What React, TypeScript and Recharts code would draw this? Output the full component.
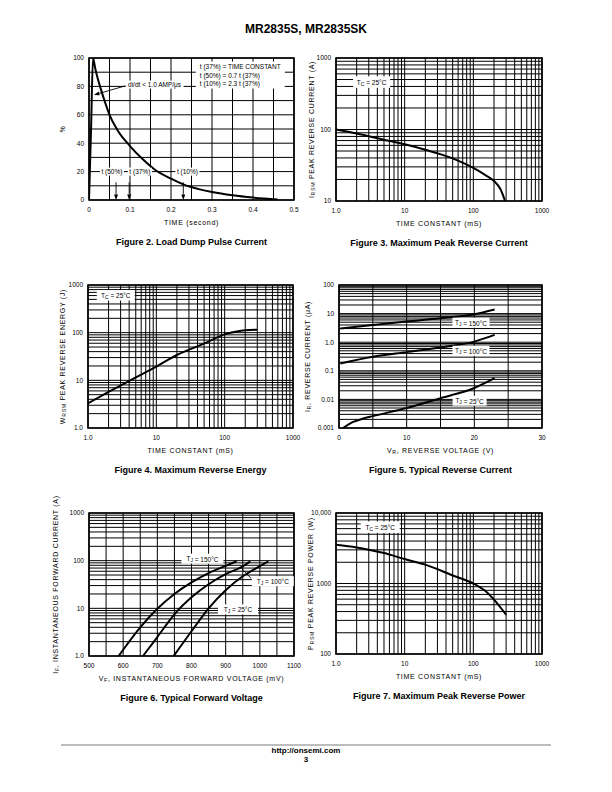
import React from 'react';
import { LineChart, Line, XAxis, YAxis, ReferenceLine, ReferenceArea, ReferenceDot } from 'recharts';

const FONT = '"Liberation Sans", Arial, Helvetica, sans-serif';
const INK = '#000';

// Figure 2 - load dump pulse current
const pulseTime = [0, 0.005, 0.0098, 0.015, 0.02, 0.03, 0.04, 0.05, 0.07, 0.1, 0.13, 0.16, 0.2, 0.23, 0.27, 0.3, 0.35, 0.4, 0.46];
const pulsePercent = [0, 50, 100, 93, 87, 77, 68, 60, 49, 38, 29, 21.5, 15, 11, 7.5, 5.6, 3.3, 1.7, 0.4];
const pulseXTicks = [0, 0.1, 0.2, 0.3, 0.4, 0.5];
const pulseYTicks = [0, 20, 40, 60, 80, 100];
const pulseNotes = ['t (37%) = TIME CONSTANT', 't (50%) = 0.7 t (37%)', 't (10%) = 2.3 t (37%)'];
const pulseMarkTimes = [0.066, 0.098, 0.23];
const pulseMarkLabels = ['t (50%)', 't (37%)', 't (10%)'];
const pulseMarkLabelX = [0.056, 0.124, 0.24];

// Figure 3 - max peak reverse current
const ircTime = [1, 2, 5, 10, 20, 50, 100, 150, 200, 250, 290];
const ircAmps = [100, 88, 72, 62, 52, 39.5, 29, 23, 19, 14.5, 10];

// Figure 4 - max reverse energy
const wrsmTime = [1, 2, 5, 10, 20, 50, 100, 150, 200, 300];
const wrsmJoules = [3.3, 5.7, 11.5, 19.5, 34, 59, 92, 106, 112, 115];

// Figure 5 - typical reverse current
const vr150 = [0.2, 5, 10, 15, 20, 23];
const ir150 = [3.0, 4.0, 5.3, 6.9, 9.5, 14];
const vr100 = [0.2, 5, 10, 15, 20, 23];
const ir100 = [0.18, 0.31, 0.45, 0.65, 1.05, 1.8];
const vr25 = [0.6, 2, 3.5, 5, 10, 15, 20, 23];
const ir25 = [0.001, 0.0016, 0.0021, 0.0026, 0.005, 0.011, 0.025, 0.055];

// Figure 6 - typical forward voltage
const vf150 = [587, 600, 650, 700, 750, 800, 850, 900, 932];
const if150 = [1, 1.35, 4, 9.8, 20, 35, 55, 78, 97];
const vf100 = [658, 700, 750, 800, 850, 900, 950, 972];
const if100 = [1, 2.5, 7.5, 17, 32, 52, 76, 97];
const vf25 = [748, 800, 850, 900, 950, 1000, 1025];
const if25 = [1, 3.3, 10, 24, 47, 77, 97];

// Figure 7 - max peak reverse power
const prsmTime = [1, 2, 3, 5, 10, 20, 50, 100, 150, 200, 300];
const prsmWatts = [3550, 3250, 3020, 2700, 2220, 1850, 1300, 1000, 780, 590, 360];

const decadeTicks = [1, 10, 100, 1000];
const reverseTicks = [0.001, 0.01, 0.1, 1, 10, 100];
const powerTicks = [100, 1000, 10000];
const voltTicks = [0, 10, 20, 30];
const fwdTicks = [500, 600, 700, 800, 900, 1000, 1100];

const toPoints = (xs: number[], ys: number[]) => xs.map((x, i) => ({ x, y: ys[i] }));

function logGrid(lo: number, hi: number) {
  const out: number[] = [];
  const e0 = Math.round(Math.log10(lo));
  const e1 = Math.round(Math.log10(hi));
  for (let e = e0; e < e1; e++) {
    for (let m = 1; m < 10; m++) out.push(Number((m * Math.pow(10, e)).toPrecision(3)));
  }
  out.push(hi);
  return out;
}

function linGrid(lo: number, hi: number, step: number) {
  const out: number[] = [];
  const n = Math.round((hi - lo) / step);
  for (let i = 0; i <= n; i++) out.push(Number((lo + i * step).toFixed(4)));
  return out;
}

const logFmt = (v: number) => {
  if (v === 1) return '1.0';
  if (v >= 10000) return v.toLocaleString('en-US');
  return String(v);
};

type Title = { main: string; sub?: string; rest?: string };

function TitleText({ t }: { t: Title }) {
  return (
    <>
      {t.main}
      {t.sub ? (
        <tspan dy={1.8} fontSize={5.2}>
          {t.sub}
        </tspan>
      ) : null}
      <tspan dy={t.sub ? -1.8 : 0}>{t.rest ?? ''}</tspan>
    </>
  );
}

function Tj({ sub, rest }: { sub: string; rest: string }) {
  return (
    <>
      T
      <tspan dy={1.5} fontSize={5}>
        {sub}
      </tspan>
      <tspan dy={-1.5}>{rest}</tspan>
    </>
  );
}

// white knock-out box with centred text, drawn at a data point
function tag(content: React.ReactNode, w: number, h = 10) {
  return (p: any) => (
    <g>
      <rect x={p.cx - w / 2} y={p.cy - h / 2} width={w} height={h} fill="#fff" stroke="none" />
      <text
        x={p.cx}
        y={p.cy}
        textAnchor="middle"
        dominantBaseline="central"
        fontSize={6.5}
        fontFamily={FONT}
        fill={INK}
        stroke="none"
      >
        {content}
      </text>
    </g>
  );
}

function arrowShape(p: any) {
  const { x1, y1, x2, y2 } = p;
  if ([x1, y1, x2, y2].some((v) => typeof v !== 'number' || Number.isNaN(v))) return <g />;
  const ang = Math.atan2(y2 - y1, x2 - x1);
  const len = 5.5;
  const half = 2;
  const bx = x2 - len * Math.cos(ang);
  const by = y2 - len * Math.sin(ang);
  const nx = -Math.sin(ang) * half;
  const ny = Math.cos(ang) * half;
  return (
    <g>
      <line x1={x1} y1={y1} x2={bx} y2={by} stroke={INK} strokeWidth={0.9} />
      <polygon points={`${x2},${y2} ${bx + nx},${by + ny} ${bx - nx},${by - ny}`} fill={INK} stroke="none" />
    </g>
  );
}

const PAD_L = 70;
const PAD_T = 30;
const PAD_R = 20;
const PAD_B = 50;
const Y_AXIS_W = 40;
const X_AXIS_H = 20;

type FrameProps = {
  plot: { x: number; y: number; w: number; h: number };
  xDomain: [number, number];
  yDomain: [number, number];
  xLog?: boolean;
  yLog?: boolean;
  xTicks: number[];
  yTicks: number[];
  xFmt?: (v: number) => string;
  yFmt?: (v: number) => string;
  xGrid: number[];
  yGrid: number[];
  xTitle: Title;
  yTitle: Title;
  yTitleGap: number;
  caption: string;
  children?: React.ReactNode;
};

function Frame({
  plot,
  xDomain,
  yDomain,
  xLog,
  yLog,
  xTicks,
  yTicks,
  xFmt,
  yFmt,
  xGrid,
  yGrid,
  xTitle,
  yTitle,
  yTitleGap,
  caption,
  children,
}: FrameProps) {
  const W = plot.w + PAD_L + PAD_R;
  const H = plot.h + PAD_T + PAD_B;
  const tick = { fontSize: 6.5, fill: INK, fontFamily: FONT };
  const cx = PAD_L + plot.w / 2;
  const cy = PAD_T + plot.h / 2;
  const yx = PAD_L - yTitleGap;

  return (
    <div style={{ position: 'absolute', left: plot.x - PAD_L, top: plot.y - PAD_T, width: W, height: H }}>
      <LineChart
        width={W}
        height={H}
        margin={{ top: PAD_T, right: PAD_R, bottom: PAD_B - X_AXIS_H, left: PAD_L - Y_AXIS_W }}
      >
        <XAxis
          type="number"
          dataKey="x"
          scale={xLog ? 'log' : 'linear'}
          domain={xDomain}
          allowDataOverflow
          ticks={xTicks}
          tickFormatter={xFmt}
          interval={0}
          axisLine={false}
          tickLine={false}
          tickSize={0}
          tickMargin={7}
          height={X_AXIS_H}
          tick={tick}
        />
        <YAxis
          type="number"
          dataKey="y"
          scale={yLog ? 'log' : 'linear'}
          domain={yDomain}
          allowDataOverflow
          ticks={yTicks}
          tickFormatter={yFmt}
          interval={0}
          axisLine={false}
          tickLine={false}
          tickSize={0}
          tickMargin={5}
          width={Y_AXIS_W}
          tick={tick}
        />
        {yGrid.map((v) => (
          <ReferenceLine key={`h${v}`} y={v} stroke={INK} strokeWidth={1} />
        ))}
        {xGrid.map((v) => (
          <ReferenceLine key={`v${v}`} x={v} stroke={INK} strokeWidth={1} />
        ))}
        <ReferenceArea
          x1={xDomain[0]}
          x2={xDomain[1]}
          y1={yDomain[0]}
          y2={yDomain[1]}
          fill="none"
          fillOpacity={0}
          stroke={INK}
          strokeWidth={1.6}
        />
        {children}
      </LineChart>
      <svg
        width={W}
        height={H}
        style={{ position: 'absolute', left: 0, top: 0, pointerEvents: 'none', overflow: 'visible' }}
        fontFamily={FONT}
        fill={INK}
      >
        <text
          x={cx}
          y={PAD_T + plot.h + 22}
          textAnchor="middle"
          dominantBaseline="central"
          fontSize={7}
          letterSpacing={0.7}
        >
          <TitleText t={xTitle} />
        </text>
        <text
          x={yx}
          y={cy}
          textAnchor="middle"
          dominantBaseline="central"
          fontSize={7}
          letterSpacing={0.7}
          transform={`rotate(-90 ${yx} ${cy})`}
        >
          <TitleText t={yTitle} />
        </text>
        <text
          x={cx}
          y={PAD_T + plot.h + 42}
          textAnchor="middle"
          dominantBaseline="central"
          fontSize={9}
          fontWeight={700}
        >
          {caption}
        </text>
      </svg>
    </div>
  );
}

const curve = (data: { x: number; y: number }[], key: string) => (
  <Line
    key={key}
    data={data}
    dataKey="y"
    type="monotone"
    stroke={INK}
    strokeWidth={2}
    dot={false}
    isAnimationActive={false}
  />
);

const tcLabel = (
  <>
    T
    <tspan dy={1.5} fontSize={5}>
      C
    </tspan>
    <tspan dy={-1.5}> = 25°C</tspan>
  </>
);

function notesShape(p: any) {
  const w = 89;
  const h = 27;
  return (
    <g>
      <rect x={p.cx - w / 2} y={p.cy - h / 2} width={w} height={h} fill="#fff" stroke="none" />
      {pulseNotes.map((s, i) => (
        <text
          key={s}
          x={p.cx - w / 2 + 4}
          y={p.cy - 8.5 + i * 8.5}
          dominantBaseline="central"
          fontSize={6.5}
          fontFamily={FONT}
          fill={INK}
          stroke="none"
        >
          {s}
        </text>
      ))}
    </g>
  );
}

function Fig2() {
  return (
    <Frame
      plot={{ x: 89, y: 58, w: 205, h: 142 }}
      xDomain={[0, 0.5]}
      yDomain={[0, 100]}
      xTicks={pulseXTicks}
      yTicks={pulseYTicks}
      xGrid={linGrid(0, 0.5, 0.05)}
      yGrid={linGrid(0, 100, 10)}
      xTitle={{ main: 'TIME (second)' }}
      yTitle={{ main: '%' }}
      yTitleGap={27}
      caption="Figure 2. Load Dump Pulse Current"
    >
      {curve(toPoints(pulseTime, pulsePercent), 'pulse')}
      <ReferenceDot x={0.369} y={88} r={1} shape={notesShape} />
      <ReferenceDot x={0.16} y={81.3} r={1} shape={tag('di/dt < 1.0 AMP/\u03bcs', 58, 8)} />
      <ReferenceLine segment={[{ x: 0.09, y: 80.5 }, { x: 0.012, y: 74 }]} shape={arrowShape} />
      {pulseMarkLabels.map((s, i) => (
        <ReferenceDot key={s} x={pulseMarkLabelX[i]} y={20} r={1} shape={tag(s, 24, 8)} />
      ))}
      {pulseMarkTimes.map((t) => (
        <ReferenceLine key={`m${t}`} segment={[{ x: t, y: 12.5 }, { x: t, y: 0 }]} shape={arrowShape} />
      ))}
    </Frame>
  );
}

function Fig3() {
  return (
    <Frame
      plot={{ x: 336, y: 58, w: 206, h: 143 }}
      xDomain={[1, 1000]}
      yDomain={[10, 1000]}
      xLog
      yLog
      xTicks={decadeTicks}
      yTicks={[10, 100, 1000]}
      xFmt={logFmt}
      yFmt={logFmt}
      xGrid={logGrid(1, 1000)}
      yGrid={logGrid(10, 1000)}
      xTitle={{ main: 'TIME CONSTANT (mS)' }}
      yTitle={{ main: 'I', sub: 'RSM', rest: ' PEAK REVERSE CURRENT (A)' }}
      yTitleGap={25}
      caption="Figure 3. Maximum Peak Reverse Current"
    >
      {curve(toPoints(ircTime, ircAmps), 'irsm')}
      <ReferenceDot x={3.3} y={460} r={1} shape={tag(tcLabel, 37, 11.5)} />
    </Frame>
  );
}

function Fig4() {
  return (
    <Frame
      plot={{ x: 88, y: 285, w: 205, h: 143 }}
      xDomain={[1, 1000]}
      yDomain={[1, 1000]}
      xLog
      yLog
      xTicks={decadeTicks}
      yTicks={decadeTicks}
      xFmt={logFmt}
      yFmt={logFmt}
      xGrid={logGrid(1, 1000)}
      yGrid={logGrid(1, 1000)}
      xTitle={{ main: 'TIME CONSTANT (mS)' }}
      yTitle={{ main: 'W', sub: 'RSM', rest: ' PEAK REVERSE ENERGY (J)' }}
      yTitleGap={26}
      caption="Figure 4. Maximum Reverse Energy"
    >
      {curve(toPoints(wrsmTime, wrsmJoules), 'wrsm')}
      <ReferenceDot x={2.55} y={608} r={1} shape={tag(tcLabel, 38, 10.5)} />
    </Frame>
  );
}

function Fig5() {
  return (
    <Frame
      plot={{ x: 339, y: 285, w: 203, h: 143 }}
      xDomain={[0, 30]}
      yDomain={[0.001, 100]}
      yLog
      xTicks={voltTicks}
      yTicks={reverseTicks}
      yFmt={logFmt}
      xGrid={linGrid(0, 30, 5)}
      yGrid={logGrid(0.001, 100)}
      xTitle={{ main: 'V', sub: 'R', rest: ', REVERSE VOLTAGE (V)' }}
      yTitle={{ main: 'I', sub: 'R', rest: ', REVERSE CURRENT (\u03bcA)' }}
      yTitleGap={32}
      caption="Figure 5. Typical Reverse Current"
    >
      {curve(toPoints(vr150, ir150), 'r150')}
      {curve(toPoints(vr100, ir100), 'r100')}
      {curve(toPoints(vr25, ir25), 'r25')}
      <ReferenceDot x={19.5} y={4.8} r={1} shape={tag(<Tj sub="J" rest=" = 150°C" />, 37, 10)} />
      <ReferenceDot x={19.5} y={0.5} r={1} shape={tag(<Tj sub="J" rest=" = 100°C" />, 37, 10)} />
      <ReferenceDot x={19.3} y={0.009} r={1} shape={tag(<Tj sub="J" rest=" = 25°C" />, 34, 10)} />
    </Frame>
  );
}

function Fig6() {
  return (
    <Frame
      plot={{ x: 89, y: 513, w: 205, h: 143 }}
      xDomain={[500, 1100]}
      yDomain={[1, 1000]}
      yLog
      xTicks={fwdTicks}
      yTicks={decadeTicks}
      yFmt={logFmt}
      xGrid={linGrid(500, 1100, 50)}
      yGrid={logGrid(1, 1000)}
      xTitle={{ main: 'V', sub: 'F', rest: ', INSTANTANEOUS FORWARD VOLTAGE (mV)' }}
      yTitle={{ main: 'I', sub: 'F', rest: ', INSTANTANEOUS FORWARD CURRENT (A)' }}
      yTitleGap={34}
      caption="Figure 6. Typical Forward Voltage"
    >
      {curve(toPoints(vf150, if150), 'f150')}
      {curve(toPoints(vf100, if100), 'f100')}
      {curve(toPoints(vf25, if25), 'f25')}
      <ReferenceLine segment={[{ x: 975, y: 42 }, { x: 946, y: 70 }]} stroke={INK} strokeWidth={0.9} />
      <ReferenceDot x={832} y={110} r={1} shape={tag(<Tj sub="J" rest=" = 150°C" />, 42, 10)} />
      <ReferenceDot x={1038} y={37} r={1} shape={tag(<Tj sub="J" rest=" = 100°C" />, 42, 10)} />
      <ReferenceDot x={936} y={9.5} r={1} shape={tag(<Tj sub="J" rest=" = 25°C" />, 40, 10)} />
    </Frame>
  );
}

function Fig7() {
  return (
    <Frame
      plot={{ x: 336, y: 513, w: 206, h: 141 }}
      xDomain={[1, 1000]}
      yDomain={[100, 10000]}
      xLog
      yLog
      xTicks={decadeTicks}
      yTicks={powerTicks}
      xFmt={logFmt}
      yFmt={logFmt}
      xGrid={logGrid(1, 1000)}
      yGrid={logGrid(100, 10000)}
      xTitle={{ main: 'TIME CONSTANT (mS)' }}
      yTitle={{ main: 'P', sub: 'RSM', rest: ' PEAK REVERSE POWER (W)' }}
      yTitleGap={26}
      caption="Figure 7. Maximum Peak Reverse Power"
    >
      {curve(toPoints(prsmTime, prsmWatts), 'prsm')}
      <ReferenceDot x={4.4} y={6300} r={1} shape={tag(tcLabel, 39, 11.5)} />
    </Frame>
  );
}

export default function App() {
  return (
    <div
      style={{
        position: 'absolute',
        left: 0,
        top: 0,
        width: 612,
        height: 792,
        background: '#fff',
        fontFamily: FONT,
        color: INK,
        overflow: 'hidden',
      }}
    >
      <div
        style={{
          position: 'absolute',
          top: 22,
          left: 0,
          width: 612,
          textAlign: 'center',
          fontSize: 12,
          fontWeight: 700,
          lineHeight: '15px',
        }}
      >
        MR2835S, MR2835SK
      </div>
      <Fig2 />
      <Fig3 />
      <Fig4 />
      <Fig5 />
      <Fig6 />
      <Fig7 />
      <div style={{ position: 'absolute', left: 61, top: 744, width: 490, height: 1.5, background: '#bdbdbd' }} />
      <div
        style={{
          position: 'absolute',
          top: 747,
          left: 0,
          width: 612,
          textAlign: 'center',
          fontSize: 8,
          fontWeight: 700,
          lineHeight: '8.5px',
        }}
      >
        http://onsemi.com
        <br />3
      </div>
    </div>
  );
}
